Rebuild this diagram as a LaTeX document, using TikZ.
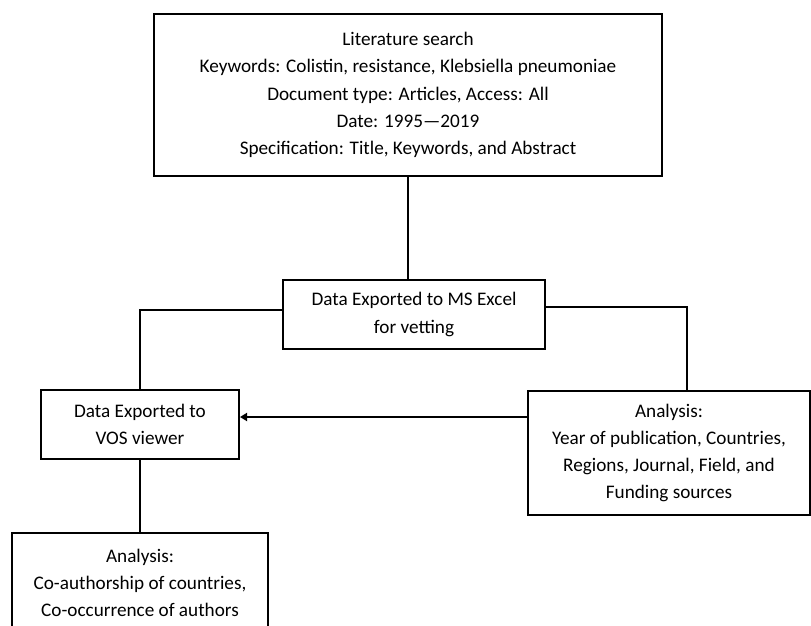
\documentclass[tikz,border=0pt]{standalone}
\usepackage{fontspec}
\setmainfont{Carlito}
\usetikzlibrary{arrows.meta}
\begin{document}
\begin{tikzpicture}[x=1pt,y=-1pt,
  box/.style={draw=black,line width=2pt,align=center,inner sep=0pt,
    font=\fontsize{19.2}{27.3}\selectfont},
  conn/.style={line width=2pt}]
\useasboundingbox (0,0) rectangle (811,626);
\clip (0,0) rectangle (811,626);
\node[box,minimum width=508pt,minimum height=162pt] (lit) at (408,95)
  {Literature search\\Keywords: Colistin, resistance, Klebsiella pneumoniae\\Document type: Articles, Access: All\\Date: 1995—2019\\Specification: Title, Keywords, and Abstract};
\node[box,minimum width=262pt,minimum height=69pt] (excel) at (414,314.5)
  {Data Exported to MS Excel\\for vetting};
\node[box,minimum width=198pt,minimum height=69pt] (vos) at (140,424.5)
  {Data Exported to\\VOS viewer};
\node[box,minimum width=282pt,minimum height=124pt] (ana) at (669,453)
  {Analysis:\\Year of publication, Countries,\\Regions, Journal, Field, and\\Funding sources};
\node[box,minimum width=256pt,minimum height=100pt,anchor=north] (co) at (140,532)
  {Analysis:\\Co-authorship of countries,\\Co-occurrence of authors};
\draw[conn] (lit.south) -- (lit.south |- excel.north);
\draw[conn] ([yshift=4.5pt]excel.west) -| (vos.north);
\draw[conn] ([yshift=7.5pt]excel.east) -| ([xshift=18pt]ana.north);
\draw[conn,-{Triangle[length=7pt,width=8pt]}] (ana.west |- 0,417) -- (vos.east |- 0,417);
\draw[conn] (vos.south) -- (co.north);
\end{tikzpicture}
\end{document}
